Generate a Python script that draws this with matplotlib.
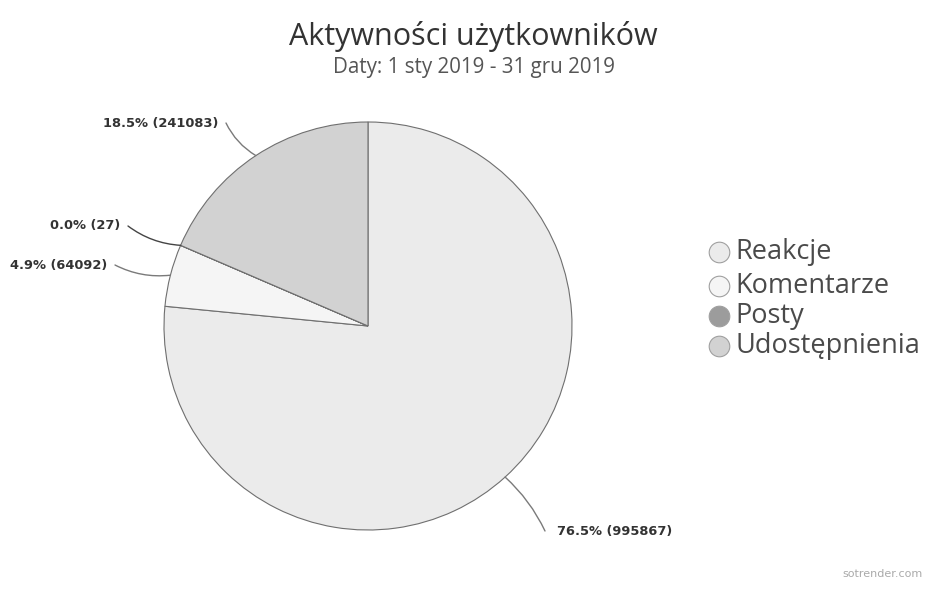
import numpy as np
import matplotlib
matplotlib.use("Agg")
import matplotlib.pyplot as plt

# ---- data ----
categories = ["Reakcje", "Komentarze", "Posty", "Udostępnienia"]
values = [995867, 64092, 27, 241083]
percent_labels = ["76.5%", "4.9%", "0.0%", "18.5%"]
title = "Aktywności użytkowników"
subtitle = "Daty: 1 sty 2019 - 31 gru 2019"
watermark = "sotrender.com"

colors = ["#ebebeb", "#f5f5f5", "#9c9c9c", "#d2d2d2"]

W, H = 925, 591
fig = plt.figure(figsize=(W / 100, H / 100), dpi=100)
ax = fig.add_axes([0, 0, 1, 1])

def Y(y):
    return H - y

cx, cy, R = 368, 326, 204
wedges, _ = ax.pie(values, colors=colors, startangle=90, counterclock=False,
                   center=(cx, Y(cy)), radius=R, frame=True,
                   wedgeprops=dict(edgecolor="#6f6f6f", linewidth=0.8))
ax.set_xlim(0, W)
ax.set_ylim(0, H)
ax.set_aspect("equal")
ax.axis("off")

# label text positions (pixel coords: x of text edge, y center), and alignment
label_pos = {
    0: (557, 531, "left"),
    1: (107, 265, "right"),
    2: (120, 226, "right"),
    3: (218, 123, "right"),
}
for i, w in enumerate(wedges):
    if i == 2:
        ang = np.deg2rad(w.theta1)
    else:
        ang = np.deg2rad((w.theta1 + w.theta2) / 2)
    px = cx + R * np.cos(ang)
    py = Y(cy) + R * np.sin(ang)
    tx, ty, ha = label_pos[i]
    txt = f"{percent_labels[i]} ({values[i]})"
    ax.text(tx, Y(ty), txt, ha=ha, va="center", fontsize=9.4,
            fontweight="bold", color="#333333", family="DejaVu Sans")
    sx = tx + 8 if ha == "right" else tx - 12
    lc = "#444444" if i == 2 else "#7a7a7a"
    ax.annotate("", xy=(px, py), xytext=(sx, Y(ty)),
                arrowprops=dict(arrowstyle="-", color=lc, lw=1.0,
                                connectionstyle="arc3,rad=0.15" if ha == "right" else "arc3,rad=0.1",
                                shrinkA=0, shrinkB=0))

# titles
ax.text(473, Y(36), title, ha="center", va="center", fontsize=22,
        color="#333333", family="Open Sans")
ax.text(474, Y(68), subtitle, ha="center", va="center", fontsize=14.8,
        color="#555555", family="Open Sans")

# legend
leg_y = [252, 286, 316, 346]
for i, name in enumerate(categories):
    ax.scatter([719], [Y(leg_y[i])], s=220, color=colors[i],
               edgecolor="#a0a0a0", linewidth=0.8, zorder=5)
    ax.text(735, Y(leg_y[i]), name, ha="left", va="center", fontsize=19.5,
            color="#4a4a4a", family="Open Sans")

ax.text(923, Y(574), watermark, ha="right", va="center", fontsize=8,
        color="#aaaaaa", family="DejaVu Sans")

fig.savefig("out.png", dpi=100, facecolor="white")
